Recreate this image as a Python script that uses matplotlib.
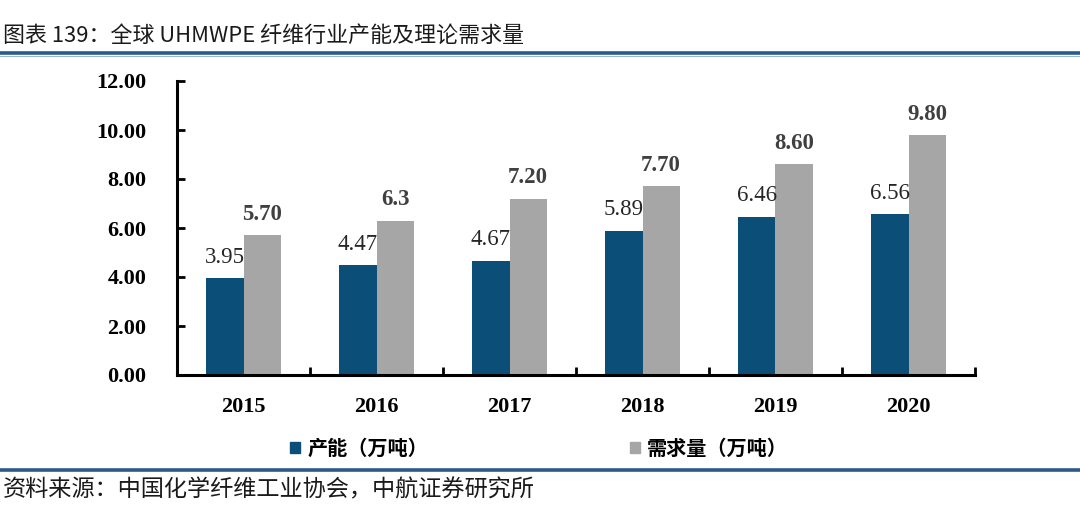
import matplotlib
matplotlib.use("Agg")
import matplotlib.pyplot as plt
import numpy as np
from matplotlib.lines import Line2D
from matplotlib.patches import Patch

plt.rcParams["font.family"] = ["Noto Sans CJK SC", "DejaVu Sans"]

years = ["2015", "2016", "2017", "2018", "2019", "2020"]
capacity = [3.95, 4.47, 4.67, 5.89, 6.46, 6.56]
demand = [5.70, 6.30, 7.20, 7.70, 8.60, 9.80]
capacity_labels = ["3.95", "4.47", "4.67", "5.89", "6.46", "6.56"]
demand_labels = ["5.70", "6.3", "7.20", "7.70", "8.60", "9.80"]
yticks = [0, 2, 4, 6, 8, 10, 12]

BLUE = "#0b4f78"
GREY = "#a6a6a6"
LINE = "#2b5a8a"
NUM_FONT = "Liberation Serif"

fig = plt.figure(figsize=(10.8, 5.25), dpi=100)
ax = fig.add_axes([177 / 1080, 1 - 375 / 525, 798 / 1080, 294 / 525])

x = np.arange(len(years))
w = 0.28
ax.bar(x - w / 2, capacity, w, color=BLUE, zorder=2)
ax.bar(x + w / 2, demand, w, color=GREY, zorder=2)

# value labels: plain for capacity, bold for demand
for xi, v, s in zip(x, capacity, capacity_labels):
    ax.text(xi - w / 2, v + 0.85, s, ha="center", va="center",
            fontsize=16.5, family=NUM_FONT, color="#262626")
for xi, v, s in zip(x, demand, demand_labels):
    ax.text(xi + w / 2, v + 0.85, s, ha="center", va="center",
            fontsize=16.5, family=NUM_FONT, fontweight="bold", color="#404040")

ax.set_xlim(-0.5, len(years) - 0.5)
ax.set_ylim(0, 12)
ax.set_yticks(yticks)
ax.set_yticklabels([f"{t:.2f}" for t in yticks], family=NUM_FONT,
                   fontweight="bold", fontsize=16)
ax.set_xticks(x)
ax.set_xticklabels(years, family=NUM_FONT, fontweight="bold", fontsize=16)
ax.tick_params(axis="x", length=0, pad=16)
ax.set_xticks(np.arange(-0.5, len(years)), minor=True)
ax.tick_params(axis="x", which="minor", direction="in", length=6, width=2)
ax.tick_params(axis="y", direction="in", length=6, width=2, pad=22)

for side in ("top", "right"):
    ax.spines[side].set_visible(False)
for side in ("left", "bottom"):
    ax.spines[side].set_linewidth(2.2)

handles = [Patch(color=BLUE, label="产能（万吨）"),
           Patch(color=GREY, label="需求量（万吨）")]
fig.legend(handles=handles, loc="center", bbox_to_anchor=(539 / 1080, 1 - 448 / 525),
           ncol=2, frameon=False, handlelength=0.5, handleheight=0.5,
           handletextpad=0.35, columnspacing=10.0,
           prop={"family": ["Noto Sans CJK SC"], "size": 14.5, "weight": "bold"})

fig.text(0.003, 1 - 36 / 525, "图表 139：全球 UHMWPE 纤维行业产能及理论需求量",
         fontsize=15.8, va="center", ha="left", color="#1a1a1a")
fig.text(0.003, 1 - 490 / 525, "资料来源：中国化学纤维工业协会，中航证券研究所",
         fontsize=16.7, va="center", ha="left", color="#1a1a1a")

fig.add_artist(Line2D([0, 1], [1 - 53 / 525] * 2, color=LINE, lw=2.6))
fig.add_artist(Line2D([0, 1], [1 - 56 / 525] * 2, color="#9fb6cf", lw=0.8))
fig.add_artist(Line2D([0, 1], [1 - 470 / 525] * 2, color=LINE, lw=2.6))

fig.savefig("out.png", dpi=100)
